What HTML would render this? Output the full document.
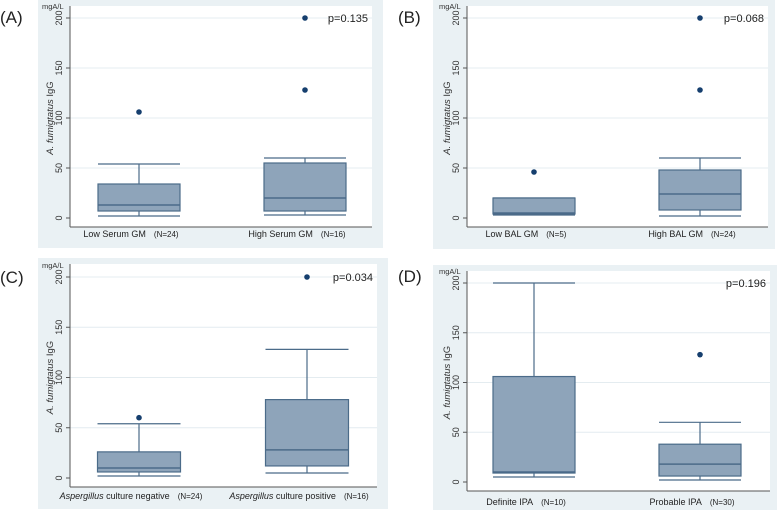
<!DOCTYPE html>
<html><head><meta charset="utf-8"><style>
html,body{margin:0;padding:0;background:#fff;}
svg{display:block;font-family:"Liberation Sans",Arial,sans-serif;}
</style></head><body>
<svg id="chart" width="777" height="512" viewBox="0 0 777 512"></svg>
<script>
// Panel data: [whiskerLow, q1, median, q3, whiskerHigh]
const panelLetters = ["(A)", "(B)", "(C)", "(D)"];
const pValues = ["p=0.135", "p=0.068", "p=0.034", "p=0.196"];
const catA = ["Low Serum GM", "High Serum GM"];
const nA = ["(N=24)", "(N=16)"];
const boxesA = [[2, 7, 13, 34, 54], [3, 7, 20, 55, 60]];
const outliersA = [[106], [128, 200]];
const catB = ["Low BAL GM", "High BAL GM"];
const nB = ["(N=5)", "(N=24)"];
const boxesB = [[3, 4, 5, 20, 20], [2, 8, 24, 48, 60]];
const outliersB = [[46], [128, 200]];
const catC = ["culture negative", "culture positive"];
const nC = ["(N=24)", "(N=16)"];
const boxesC = [[2, 6, 10, 26, 54], [5, 12, 28, 78, 128]];
const outliersC = [[60], [200]];
const catD = ["Definite IPA", "Probable IPA"];
const nD = ["(N=10)", "(N=30)"];
const boxesD = [[5, 9, 10, 106, 200], [2, 6, 18, 38, 60]];
const outliersD = [[], [128]];
const yTicks = [0, 50, 100, 150, 200];

const svg = document.getElementById('chart');
const NS = "http://www.w3.org/2000/svg";
function mk(tag, attrs, parent, text) {
  const e = document.createElementNS(NS, tag);
  for (const k in attrs) e.setAttribute(k, attrs[k]);
  if (text !== undefined) e.textContent = text;
  (parent || svg).appendChild(e);
  return e;
}

const layouts = [
  {bg:[38,0,345,248], ax:70, right:372, y200:18, y0:218, xline:227, lab:237, cx:[139,305], bw:82, letter:[0,23], italicPrefix:false},
  {bg:[433,0,342,249], ax:467, right:768, y200:18, y0:218, xline:227, lab:237, cx:[534,700], bw:82, letter:[398,23], italicPrefix:false},
  {bg:[38,258,350,251], ax:70, right:377, y200:277, y0:478, xline:487, lab:499, cx:[139,307], bw:83, letter:[0,283], italicPrefix:true},
  {bg:[433,265,344,245], ax:467, right:770, y200:283, y0:482, xline:491, lab:505, cx:[534,700], bw:82, letter:[398,282], italicPrefix:false}
];
const cats = [catA, catB, catC, catD];
const ns = [nA, nB, nC, nD];
const boxes = [boxesA, boxesB, boxesC, boxesD];
const outs = [outliersA, outliersB, outliersC, outliersD];
const names = ["a","b","c","d"];

layouts.forEach((L, i) => {
  const g = mk('g', {});
  
  
  const yS = v => L.y0 + (L.y200 - L.y0) * v / 200;
  const bg = mk('rect', {x:L.bg[0], y:L.bg[1], width:L.bg[2], height:L.bg[3], fill:'#eaf1f4'}, g);
  
  
  const pa = mk('rect', {x:L.ax, y:L.bg[1]+6, width:L.right-L.ax, height:L.xline-L.bg[1]-6, fill:'#ffffff'}, g);
  
  
  const lt = mk('text', {x:L.letter[0], y:L.letter[1], 'font-size':17, fill:'#222'}, g, panelLetters[i]);
  
  
  yTicks.forEach(t => {
    const y = yS(t);
    if (t > 0) {
      const gl = mk('line', {x1:L.ax, x2:L.right, y1:y, y2:y, stroke:'#e4ecf0', 'stroke-width':1}, g);
      
      
    }
    mk('line', {x1:L.ax-4, x2:L.ax, y1:y, y2:y, stroke:'#555', 'stroke-width':1}, g);
    const tl = mk('text', {x:0, y:0, 'font-size':9, fill:'#333', 'text-anchor':'middle', transform:`translate(${L.ax-8},${y}) rotate(-90)`}, g, String(t));
    
    
  });
  mk('line', {x1:L.ax, x2:L.ax, y1:L.bg[1]+6, y2:L.xline, stroke:'#555', 'stroke-width':1}, g);
  mk('line', {x1:L.ax, x2:L.right, y1:L.xline, y2:L.xline, stroke:'#555', 'stroke-width':1}, g);
  const un = mk('text', {x:L.ax-28, y:L.y200-9, 'font-size':7.5, fill:'#333'}, g, 'mgA/L');
  
  
  const yt = mk('text', {x:0, y:0, 'font-size':9.5, fill:'#333', 'text-anchor':'middle', transform:`translate(${L.ax-17},${(L.y0+L.y200)/2}) rotate(-90)`}, g);
  mk('tspan', {'font-style':'italic'}, yt, 'A. fumigtatus');
  mk('tspan', {}, yt, ' IgG');
  
  
  const pv = mk('text', {x:L.right-4, y:L.y200+4, 'font-size':11, fill:'#222', 'text-anchor':'end'}, g, pValues[i]);
  
  
  boxes[i].forEach((b, j) => {
    const cx = L.cx[j], hw = L.bw/2;
    const bx = mk('g', {}, g);
    
    
    const st = '#4b6b89';
    mk('line', {x1:cx, x2:cx, y1:yS(b[0]), y2:yS(b[1]), stroke:st, 'stroke-width':1.2}, bx);
    mk('line', {x1:cx, x2:cx, y1:yS(b[3]), y2:yS(b[4]), stroke:st, 'stroke-width':1.2}, bx);
    mk('line', {x1:cx-hw, x2:cx+hw, y1:yS(b[0]), y2:yS(b[0]), stroke:st, 'stroke-width':1.2}, bx);
    mk('line', {x1:cx-hw, x2:cx+hw, y1:yS(b[4]), y2:yS(b[4]), stroke:st, 'stroke-width':1.2}, bx);
    mk('rect', {x:cx-hw, y:yS(b[3]), width:L.bw, height:yS(b[1])-yS(b[3]), fill:'#8ea4ba', stroke:st, 'stroke-width':1.2}, bx);
    mk('line', {x1:cx-hw, x2:cx+hw, y1:yS(b[2]), y2:yS(b[2]), stroke:st, 'stroke-width':1.5}, bx);
    outs[i][j].forEach(o => {
      const d = mk('circle', {cx:cx, cy:yS(o), r:2.8, fill:'#163f6e'}, bx);
      
      
    });
    const xl = mk('text', {x:cx-8, y:L.lab, 'font-size':9, fill:'#222', 'text-anchor':'middle'}, g);
    if (L.italicPrefix) mk('tspan', {'font-style':'italic'}, xl, 'Aspergillus ');
    mk('tspan', {}, xl, cats[i][j]);
    mk('tspan', {'font-size':8, dx:8}, xl, ns[i][j]);
    
    
  });
});
</script>
</body></html>
